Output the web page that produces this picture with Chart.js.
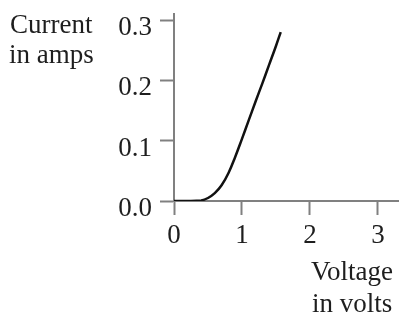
<!DOCTYPE html>
<html>
<head>
<meta charset="utf-8">
<script src="https://cdn.jsdelivr.net/npm/chart.js@4"></script>
<style>
  body { margin: 0; background: #fff; }
  #wrap { width: 399px; height: 320px; }
</style>
</head>
<body>
<div id="wrap"><canvas id="ivChart" width="399" height="320"></canvas></div>
<script>
const voltage = [0, 0.2, 0.4, 0.5, 0.6, 0.7, 0.8, 0.9, 1.0, 1.1, 1.2, 1.3, 1.4, 1.5, 1.57];
const current = [0, 0, 0.001, 0.005, 0.013, 0.026, 0.046, 0.073, 0.103, 0.134, 0.165, 0.195, 0.226, 0.257, 0.28];
const xTicks = [0, 1, 2, 3];
const yTicks = [0, 0.1, 0.2, 0.3];

const serif = '"Liberation Serif", "Times New Roman", serif';
const axisGray = '#808080';
const inkColor = '#1e1e1e';

const axisLabels = {
  id: 'axisLabels',
  afterDraw(chart) {
    const c = chart.ctx;
    c.save();
    c.font = '27px ' + serif;
    c.fillStyle = inkColor;
    c.textBaseline = 'alphabetic';
    c.textAlign = 'left';
    c.fillText('Current', 10, 33);
    c.fillText('in amps', 9, 63);
    c.fillText('Voltage', 311, 280);
    c.fillText('in volts', 312, 312);
    c.restore();
  }
};

const ctx = document.getElementById('ivChart').getContext('2d');
new Chart(ctx, {
  type: 'line',
  data: {
    datasets: [{
      data: voltage.map((v, i) => ({ x: v, y: current[i] })),
      borderColor: '#111',
      borderWidth: 2.5,
      pointRadius: 0,
      tension: 0.4,
      fill: false
    }]
  },
  options: {
    responsive: false,
    animation: false,
    layout: { padding: { top: 14, left: 0, right: 0, bottom: 0 } },
    plugins: { legend: { display: false }, tooltip: { enabled: false } },
    scales: {
      x: {
        type: 'linear',
        min: 0,
        max: 3.31,
        afterBuildTicks: s => { s.ticks = xTicks.map(v => ({ value: v })); },
        afterFit: s => {
          s.height = 119;
          s.paddingLeft = 0; s.paddingRight = 0;
        },
        border: { display: true, color: axisGray, width: 2 },
        grid: { drawOnChartArea: false, drawTicks: true, tickLength: 14, tickColor: axisGray, tickWidth: 2 },
        ticks: {
          autoSkip: false, maxRotation: 0, padding: 5,
          color: inkColor,
          font: { family: serif, size: 27 },
          callback: v => String(v)
        }
      },
      y: {
        min: 0,
        max: 0.31,
        afterBuildTicks: s => { s.ticks = yTicks.map(v => ({ value: v })); },
        afterFit: s => {
          s.width = 174;
          s.paddingTop = 0; s.paddingBottom = 0;
        },
        border: { display: true, color: axisGray, width: 2 },
        grid: { drawOnChartArea: false, drawTicks: true, tickLength: 14, tickColor: axisGray, tickWidth: 2 },
        ticks: {
          padding: 8, labelOffset: 8,
          color: inkColor,
          font: { family: serif, size: 27 },
          callback: v => Number(v).toFixed(1)
        }
      }
    }
  },
  plugins: [axisLabels]
});
</script>
</body>
</html>
